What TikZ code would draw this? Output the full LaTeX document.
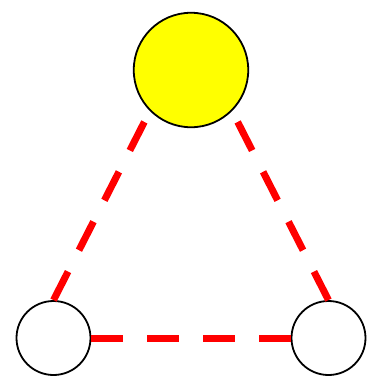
\documentclass[tikz,border=0pt]{standalone}
\definecolor{ylw}{RGB}{255,255,0}
\definecolor{rd}{RGB}{255,0,0}
\begin{document}
\begin{tikzpicture}[x=1pt,y=-1pt,
  big/.style={circle,draw=black,line width=1.8pt,fill=ylw,minimum size=114.5pt,inner sep=0pt},
  small/.style={circle,draw=black,line width=1.8pt,fill=white,minimum size=74pt,inner sep=0pt},
  link/.style={draw=rd,line width=7pt,dash pattern=on 32pt off 24pt}]
\useasboundingbox (0,0) rectangle (375,376);
\node[big] (top) at (191,70) {};
\node[small] (left) at (53.5,338) {};
\node[small] (right) at (328.5,338) {};
\draw[link] (left.north) -- (top.south west);
\draw[link] (right.north) -- (top.south east);
\draw[link] (left.east) -- (right.west);
\end{tikzpicture}
\end{document}
